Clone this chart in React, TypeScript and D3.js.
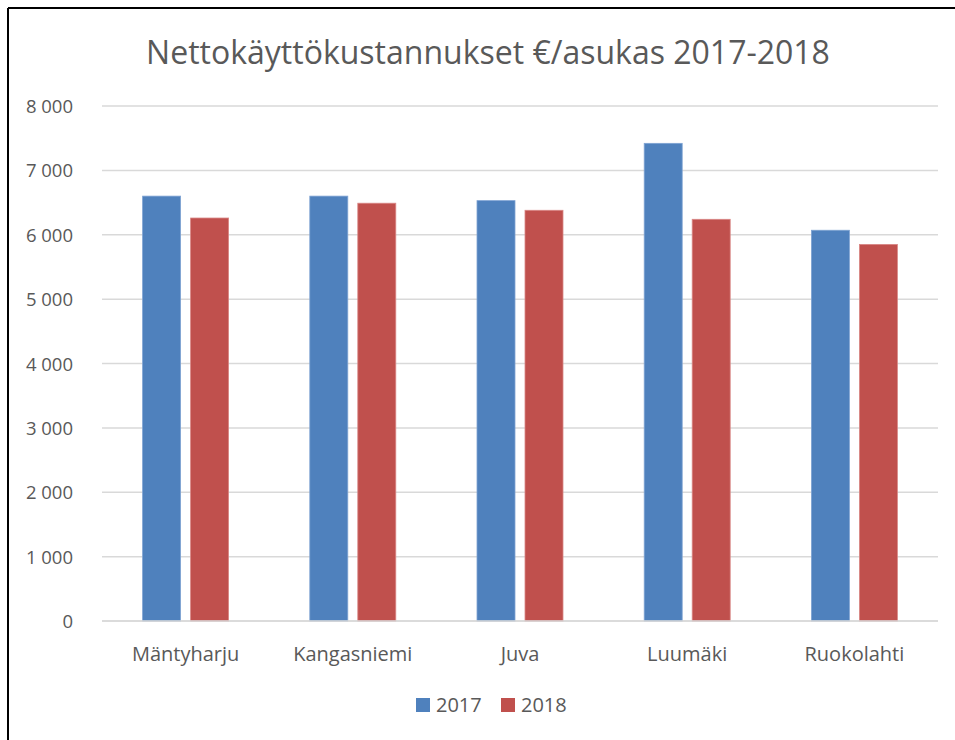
import React from "react";
import * as d3 from "d3";

const categories = ["Mäntyharju", "Kangasniemi", "Juva", "Luumäki", "Ruokolahti"];
const seriesNames = ["2017", "2018"];
const values2017 = [6600, 6600, 6530, 7420, 6070];
const values2018 = [6260, 6490, 6380, 6240, 5850];
const yTicks = [0, 1000, 2000, 3000, 4000, 5000, 6000, 7000, 8000];
const title = "Nettokäyttökustannukset €/asukas 2017-2018";

const colors = ["#4F81BD", "#C0504D"];
const font = "'Open Sans', 'Noto Sans', sans-serif";

export default function App() {
  const W = 955, H = 740;
  const left = 102, right = 938, top = 106, bottom = 621;
  const x = d3.scaleBand<string>().domain(categories).range([left, right]).paddingInner(0).paddingOuter(0);
  const y = d3.scaleLinear().domain([0, 8000]).range([bottom, top]);
  const inner = d3.scaleBand<string>().domain(seriesNames).range([0, 86]).paddingInner(10 / 48).paddingOuter(0);
  const fmt = (v: number) => d3.format(",")(v).replace(/,/g, " ");
  const series = [values2017, values2018];

  return (
    <svg width={W} height={H} style={{ position: "absolute", left: 0, top: 0, background: "#fff" }}>
      <rect x={0} y={0} width={W} height={H} fill="#fff" />
      <line x1={8} y1={8} x2={W} y2={8} stroke="#000" strokeWidth={2} />
      <line x1={8} y1={8} x2={8} y2={H} stroke="#000" strokeWidth={2} />
      <text x={488} y={64} textAnchor="middle" fontFamily={font} fontSize={32} fill="#595959">
        {title}
      </text>
      {yTicks.map((t) => (
        <g key={t}>
          <line x1={left} x2={right} y1={y(t)} y2={y(t)} stroke="#D9D9D9" strokeWidth={1.5} />
          <text x={73} y={y(t) + 7} textAnchor="end" fontFamily={font} fontSize={18.5} fill="#595959">
            {fmt(t)}
          </text>
        </g>
      ))}
      {categories.map((c, i) => {
        const cx = (x(c) as number) + x.bandwidth() / 2;
        const g0 = cx - 43;
        return (
          <g key={c}>
            {series.map((s, j) => (
              <rect
                key={j}
                x={g0 + (inner(seriesNames[j]) as number)}
                y={y(s[i])}
                width={inner.bandwidth()}
                height={y(0) - y(s[i])}
                fill={colors[j]}
                stroke={j === 0 ? "#7FA3D3" : "#D98785"}
                strokeWidth={0.8}
              />
            ))}
            <text x={cx} y={661} textAnchor="middle" fontFamily={font} fontSize={20} fill="#595959">
              {c}
            </text>
          </g>
        );
      })}
      <line x1={left} x2={right} y1={y(0)} y2={y(0)} stroke="#D9D9D9" strokeWidth={1.5} />
      {seriesNames.map((n, j) => (
        <g key={n} transform={`translate(${416 + j * 85},0)`}>
          <rect x={0} y={698} width={14} height={14} fill={colors[j]} />
          <text x={20} y={712} fontFamily={font} fontSize={20} fill="#595959">
            {n}
          </text>
        </g>
      ))}
    </svg>
  );
}
